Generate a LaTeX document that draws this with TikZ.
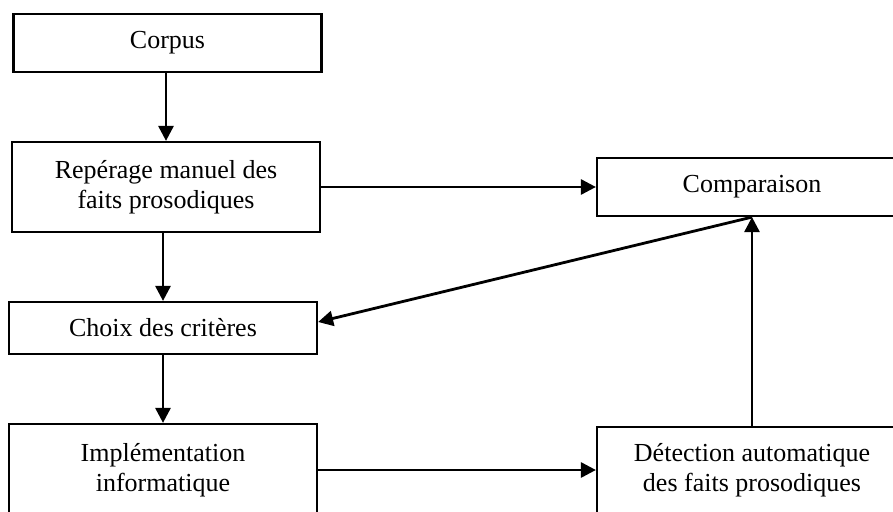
\documentclass[tikz,border=0pt]{standalone}
\usepackage{fontspec}
\setmainfont{Liberation Serif}
\usetikzlibrary{arrows.meta}

\tikzset{
  boite/.style={draw, line width=2.2pt, inner sep=0pt, align=center, anchor=center,
                minimum width=308pt, font=\fontsize{26}{30}\selectfont},
  fleche/.style={line width=2.8pt, -{Triangle[length=15pt,width=15pt]}}
}

\begin{document}
\begin{tikzpicture}[x=1pt, y=-1pt]
            \useasboundingbox                                          (  0.0,  0.0) rectangle (893.0, 511.0);
            \clip                                                      (  0.0,  0.0) rectangle (893.0, 511.0);
            \node[boite, minimum height=58pt] (corpus)      at (167.5,  43.0) {Corpus};
            \node[boite, minimum height=90pt] (reperage)    at (166.0, 187.0) {Repérage manuel des\\faits prosodiques};
            \node[boite, minimum height=52pt] (choix)       at (163.0, 328.0) {Choix des critères};
            \node[boite, minimum height=92pt] (implem)      at (163.0, 470.0) {Implémentation\\informatique};
            \node[boite, minimum height=58pt, minimum width=310pt] (comparaison) at (752.0, 187.0) {Comparaison};
            \node[boite, minimum height=86pt, minimum width=310pt] (detection)   at (752.0, 470.0) {Détection automatique\\des faits prosodiques};
            \draw[fleche] (corpus.south -| reperage.north) -- (reperage.north);
            \draw[fleche] (reperage.south -| choix.north)  -- (choix.north);
            \draw[fleche] (choix)                          -- (implem);
            \draw[fleche] (reperage)                       -- (comparaison);
            \draw[fleche] (implem)                         -- (detection);
            \draw[fleche] (detection)                      -- (comparaison);
            \draw[fleche] (comparaison.south)              -- ([yshift=6pt]choix.east);
\end{tikzpicture}
\end{document}
